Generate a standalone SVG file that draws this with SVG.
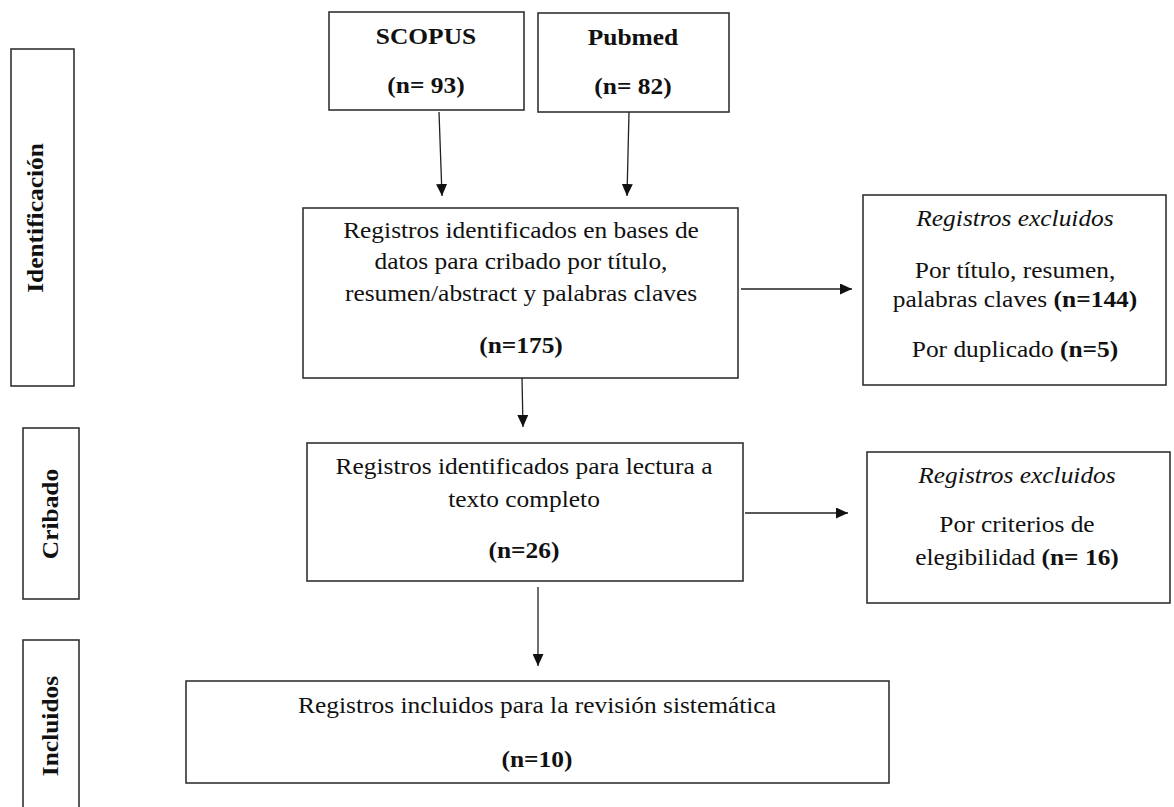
<svg xmlns="http://www.w3.org/2000/svg" width="1174" height="807" viewBox="0 0 1174 807">
<defs>
<style>
.box{fill:#fff;stroke:#333;stroke-width:1.6}
.ln{fill:none;stroke:#222;stroke-width:1.3}
text{font-family:"Liberation Serif","Times New Roman",serif;font-size:22.7px;fill:#111;text-anchor:middle}
.b{font-weight:bold}
.i{font-style:italic}
</style>
<marker id="ah" viewBox="0 0 12 11" refX="12" refY="5.5" markerWidth="12" markerHeight="11" markerUnits="userSpaceOnUse" orient="auto">
<path d="M0,0 L12,5.5 L0,11 Z" fill="#111"/>
</marker>
</defs>
<rect width="1174" height="807" fill="#fff"/>

<g id="stage-identificacion">
<rect class="box" x="11" y="49" width="63" height="337"/>
<text class="b" transform="translate(43,218) rotate(-90) scale(1.12,1)">Identificación</text>
</g>
<g id="stage-cribado">
<rect class="box" x="23" y="428" width="56" height="171"/>
<text class="b" transform="translate(58,514) rotate(-90) scale(1.12,1)">Cribado</text>
</g>
<g id="stage-incluidos">
<rect class="box" x="23" y="640" width="56" height="190"/>
<text class="b" transform="translate(57.5,726) rotate(-90) scale(1.12,1)">Incluidos</text>
</g>

<g id="scopus">
<rect class="box" x="329" y="12" width="195" height="98"/>
<text class="b" transform="translate(426,44) scale(1.12,1)">SCOPUS</text>
<text class="b" transform="translate(426,93) scale(1.12,1)">(n= 93)</text>
</g>
<g id="pubmed">
<rect class="box" x="538" y="13" width="191" height="99"/>
<text class="b" transform="translate(633,45) scale(1.12,1)">Pubmed</text>
<text class="b" transform="translate(633,94) scale(1.12,1)">(n= 82)</text>
</g>

<g id="registros-identificados">
<rect class="box" x="303" y="208" width="435" height="170"/>
<text transform="translate(521,238) scale(1.12,1)">Registros identificados en bases de</text>
<text transform="translate(521,269) scale(1.12,1)">datos para cribado por título,</text>
<text transform="translate(521,301) scale(1.12,1)">resumen/abstract y palabras claves</text>
<text class="b" transform="translate(521,353) scale(1.12,1)">(n=175)</text>
</g>

<g id="excluidos-1">
<rect class="box" x="863" y="195" width="303" height="190"/>
<text class="i" transform="translate(1015,226) scale(1.12,1)">Registros excluidos</text>
<text transform="translate(1015,278) scale(1.12,1)">Por título, resumen,</text>
<text transform="translate(1015,307) scale(1.12,1)">palabras claves <tspan class="b">(n=144)</tspan></text>
<text transform="translate(1015,357) scale(1.12,1)">Por duplicado <tspan class="b">(n=5)</tspan></text>
</g>

<g id="texto-completo">
<rect class="box" x="307" y="443" width="436" height="138"/>
<text transform="translate(524,474) scale(1.12,1)">Registros identificados para lectura a</text>
<text transform="translate(524,507) scale(1.12,1)">texto completo</text>
<text class="b" transform="translate(524,558) scale(1.12,1)">(n=26)</text>
</g>

<g id="excluidos-2">
<rect class="box" x="867" y="452" width="303" height="151"/>
<text class="i" transform="translate(1017,483) scale(1.12,1)">Registros excluidos</text>
<text transform="translate(1017,532) scale(1.12,1)">Por criterios de</text>
<text transform="translate(1017,565) scale(1.12,1)">elegibilidad <tspan class="b">(n= 16)</tspan></text>
</g>

<g id="incluidos">
<rect class="box" x="186" y="681" width="703" height="102"/>
<text transform="translate(537,713) scale(1.12,1)">Registros incluidos para la revisión sistemática</text>
<text class="b" transform="translate(537,767) scale(1.12,1)">(n=10)</text>
</g>

<g id="connectors">
<line class="ln" x1="439" y1="112" x2="442" y2="196" marker-end="url(#ah)"/>
<line class="ln" x1="629" y1="112" x2="627" y2="196" marker-end="url(#ah)"/>
<line class="ln" x1="522" y1="378" x2="523" y2="427" marker-end="url(#ah)"/>
<line class="ln" x1="741" y1="289" x2="852" y2="289" marker-end="url(#ah)"/>
<line class="ln" x1="745" y1="513" x2="848" y2="513" marker-end="url(#ah)"/>
<line class="ln" x1="538" y1="587" x2="538" y2="666" marker-end="url(#ah)"/>
</g>
</svg>
